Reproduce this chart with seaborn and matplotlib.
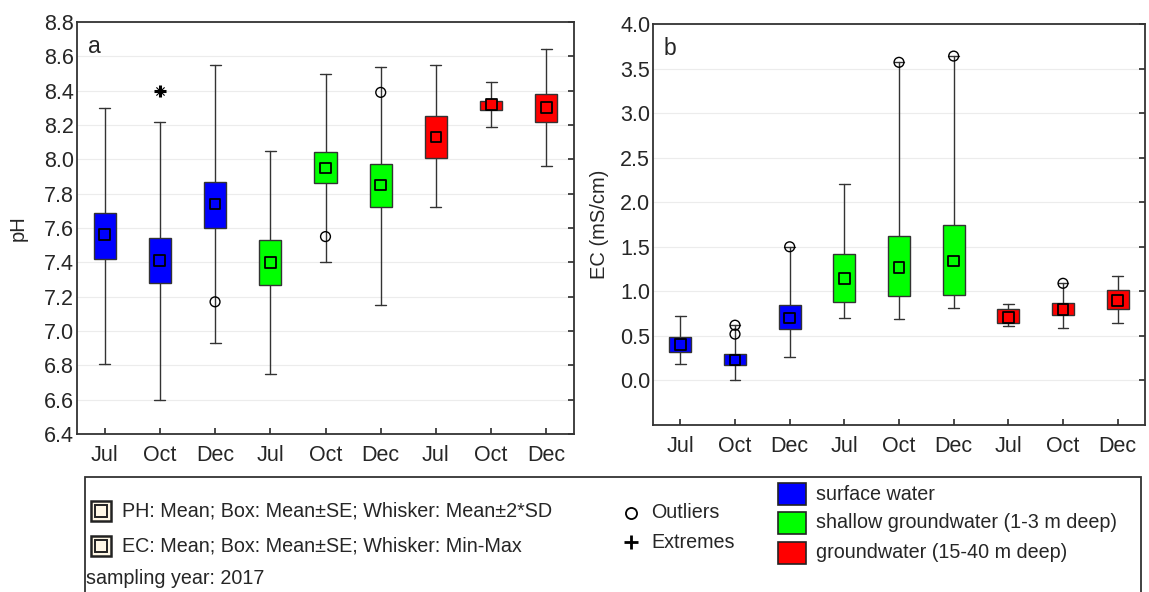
import numpy as np
import pandas as pd
import matplotlib
matplotlib.use("Agg")
import matplotlib.pyplot as plt
import seaborn as sns
from matplotlib.patches import Rectangle
from matplotlib.lines import Line2D

# ---------------- data ----------------
months = ["Jul", "Oct", "Dec"] * 3
groups = (["surface water"] * 3 + ["shallow groundwater (1-3 m deep)"] * 3
          + ["groundwater (15-40 m deep)"] * 3)
group_names = ["surface water", "shallow groundwater (1-3 m deep)", "groundwater (15-40 m deep)"]
group_colors = ["#0000FF", "#00FF00", "#FF0000"]

# pH : Mean; Box: Mean±SE; Whisker: Mean±2*SD
ph_mean = [7.56, 7.41, 7.74, 7.40, 7.95, 7.85, 8.13, 8.32, 8.30]
ph_box_lo = [7.42, 7.28, 7.60, 7.27, 7.86, 7.72, 8.01, 8.29, 8.22]
ph_box_hi = [7.69, 7.54, 7.87, 7.53, 8.04, 7.97, 8.25, 8.34, 8.38]
ph_whis_lo = [6.81, 6.60, 6.93, 6.75, 7.40, 7.15, 7.72, 8.19, 7.96]
ph_whis_hi = [8.30, 8.22, 8.55, 8.05, 8.50, 8.54, 8.55, 8.45, 8.64]
ph_outlier_idx = [2, 4, 5]
ph_outlier_val = [7.17, 7.55, 8.39]
ph_extreme_idx = [1]
ph_extreme_val = [8.40]

# EC : Mean; Box: Mean±SE; Whisker: Min-Max
ec_mean = [0.40, 0.23, 0.70, 1.14, 1.27, 1.34, 0.71, 0.80, 0.90]
ec_box_lo = [0.32, 0.17, 0.58, 0.88, 0.95, 0.96, 0.65, 0.74, 0.80]
ec_box_hi = [0.49, 0.30, 0.85, 1.42, 1.62, 1.74, 0.80, 0.87, 1.01]
ec_whis_lo = [0.18, 0.01, 0.26, 0.70, 0.69, 0.81, 0.61, 0.59, 0.64]
ec_whis_hi = [0.72, 0.62, 1.50, 2.21, 3.57, 3.64, 0.86, 1.09, 1.17]
ec_outlier_idx = [1, 1, 2, 4, 5, 7]
ec_outlier_val = [0.62, 0.52, 1.50, 3.57, 3.64, 1.09]
ec_extreme_idx = []
ec_extreme_val = []

# ---------------- style ----------------
sns.set_theme(style="white")
plt.rcParams["font.family"] = ["Liberation Sans", "DejaVu Sans"]
palette = dict(zip(group_names, group_colors))
EDGE = "#333333"
TICK_FS = 15.5
LAB_FS = 14.5
LEG_FS = 14.2

fig = plt.figure(figsize=(11.49, 5.92), dpi=100)
ax_a = fig.add_axes([77 / 1149, 1 - 434 / 592, 497 / 1149, 412 / 592])
ax_b = fig.add_axes([653 / 1149, 1 - 425 / 592, 492 / 1149, 401 / 592])


def panel(ax, mean, lo, hi, wlo, whi, oidx, oval, eidx, evals, ylim, yticks, ylabel, letter,
          labelpad):
    pos = np.arange(len(mean))
    stats = [dict(med=m, q1=l, q3=h, whislo=a, whishi=b, fliers=[])
             for m, l, h, a, b in zip(mean, lo, hi, wlo, whi)]
    bp = ax.bxp(stats, positions=pos, widths=0.4, patch_artist=True, showfliers=False,
                boxprops=dict(edgecolor=EDGE, linewidth=1.0),
                whiskerprops=dict(color=EDGE, linewidth=1.0),
                capprops=dict(color=EDGE, linewidth=1.0),
                medianprops=dict(linewidth=0), capwidths=0.2, manage_ticks=False)
    for patch, g in zip(bp["boxes"], groups):
        patch.set_facecolor(palette[g])
        patch.set_zorder(3)
    df = pd.DataFrame({"pos": pos, "mean": mean, "group": groups})
    sns.scatterplot(data=df, x="pos", y="mean", hue="group", palette=palette, marker="s",
                    s=60, edgecolor="black", linewidth=1.3, legend=False, ax=ax, zorder=5)
    if len(oidx):
        dfo = pd.DataFrame({"pos": oidx, "val": oval})
        sns.scatterplot(data=dfo, x="pos", y="val", marker="o", s=50, facecolor="none",
                        edgecolor="black", linewidth=1.0, legend=False, ax=ax, zorder=6)
    if len(eidx):
        dfe = pd.DataFrame({"pos": eidx, "val": evals})
        sns.scatterplot(data=dfe, x="pos", y="val", marker="+", s=80, color="black",
                        linewidth=2.2, legend=False, ax=ax, zorder=6)
        sns.scatterplot(data=dfe, x="pos", y="val", marker="x", s=35, color="black",
                        linewidth=0.8, legend=False, ax=ax, zorder=6)
    ax.set_xlim(-0.5, 8.5)
    ax.set_ylim(*ylim)
    ax.set_yticks(yticks)
    ax.set_yticklabels([f"{t:.1f}" for t in yticks])
    ax.set_xticks(pos)
    ax.set_xticklabels(months)
    ax.set_xlabel("")
    ax.set_ylabel(ylabel, fontsize=LAB_FS, labelpad=labelpad)
    ax.yaxis.grid(True, color="#ececec", linewidth=0.8)
    ax.set_axisbelow(True)
    for sp in ax.spines.values():
        sp.set_visible(True)
        sp.set_color(EDGE)
        sp.set_linewidth(1.3)
    ax.tick_params(axis="x", which="both", bottom=True, direction="in", length=4,
                   color=EDGE, labelsize=TICK_FS, pad=8)
    ax.tick_params(axis="y", which="both", left=False, right=True, direction="in",
                   length=4, color=EDGE, labelsize=TICK_FS, pad=2)
    ax.text(0.022, 0.968, letter, transform=ax.transAxes, fontsize=16.5, va="top", ha="left")


panel(ax_a, ph_mean, ph_box_lo, ph_box_hi, ph_whis_lo, ph_whis_hi,
      ph_outlier_idx, ph_outlier_val, ph_extreme_idx, ph_extreme_val,
      (6.4, 8.8), np.round(np.arange(6.4, 8.81, 0.2), 1), "pH", "a", 12)
panel(ax_b, ec_mean, ec_box_lo, ec_box_hi, ec_whis_lo, ec_whis_hi,
      ec_outlier_idx, ec_outlier_val, ec_extreme_idx, ec_extreme_val,
      (-0.5, 4.0), np.round(np.arange(0.0, 4.01, 0.5), 1), "EC (mS/cm)", "b", 8)

# ---------------- legend box ----------------
W, H = 1149, 592


def fx(x):
    return x / W


def fy(y):
    return 1 - y / H


fig.add_artist(Rectangle((fx(85), fy(600)), fx(1141) - fx(85), fy(477) - fy(600),
                         transform=fig.transFigure, facecolor="none", edgecolor=EDGE,
                         linewidth=1.3, clip_on=False))

for cy, txt in [(511, "PH: Mean; Box: Mean±SE; Whisker: Mean±2*SD"),
                (546, "EC: Mean; Box: Mean±SE; Whisker: Min-Max")]:
    fig.add_artist(Rectangle((fx(91), fy(cy + 10)), fx(20), 20 / H, transform=fig.transFigure,
                             facecolor="#FFF8E6", edgecolor="#222222", linewidth=1.8))
    fig.add_artist(Rectangle((fx(95), fy(cy + 6)), fx(12), 12 / H, transform=fig.transFigure,
                             facecolor="#FFF8E6", edgecolor="#222222", linewidth=1.4))
    fig.text(fx(122), fy(cy), txt, fontsize=LEG_FS, va="center", ha="left")
fig.text(fx(86), fy(578), "sampling year: 2017", fontsize=LEG_FS, va="center", ha="left")

fig.add_artist(Line2D([fx(631)], [fy(513)], marker="o", markersize=8, markerfacecolor="none",
                      markeredgecolor="black", markeredgewidth=1.3, transform=fig.transFigure))
fig.text(fx(651), fy(513), "Outliers", fontsize=LEG_FS, va="center", ha="left")
fig.add_artist(Line2D([fx(631)], [fy(542)], marker="+", markersize=10, markeredgecolor="black",
                      markeredgewidth=2.0, transform=fig.transFigure))
fig.text(fx(651), fy(542), "Extremes", fontsize=LEG_FS, va="center", ha="left")

for cy, name, col in zip([494, 523, 553], group_names, group_colors):
    fig.add_artist(Rectangle((fx(778), fy(cy + 11)), fx(28), 22 / H, transform=fig.transFigure,
                             facecolor=col, edgecolor="#222222", linewidth=1.2))
    fig.text(fx(816), fy(cy), name, fontsize=LEG_FS, va="center", ha="left")

fig.savefig("out.png", dpi=100)
